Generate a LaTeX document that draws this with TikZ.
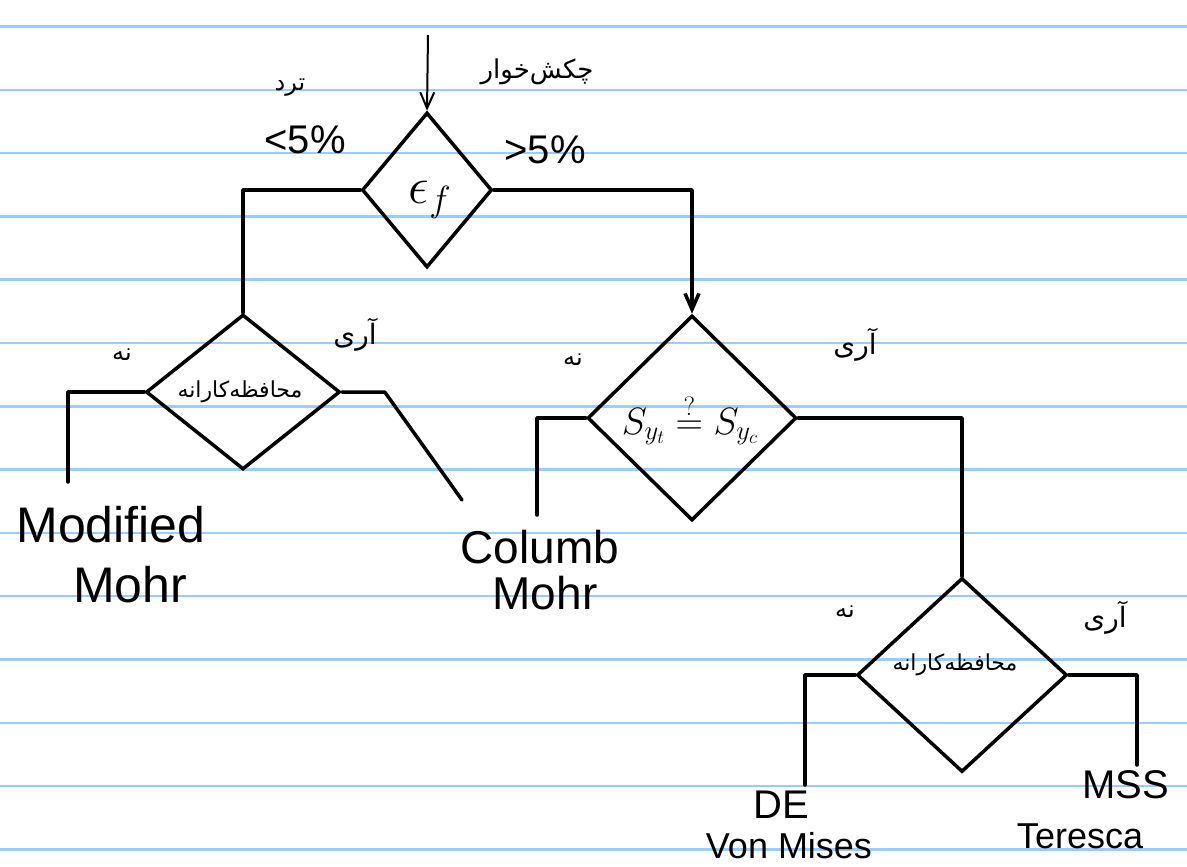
\documentclass[tikz,border=0pt]{standalone}
\usepackage{fix-cm}
\usepackage{amsmath}
\usepackage{fontspec}
\setmainfont{Liberation Sans}
\newfontfamily\arabicfont[Script=Arabic]{DejaVu Sans}
\TeXXeTstate=1
\usetikzlibrary{shapes.geometric,arrows.meta}
\definecolor{ruled}{HTML}{99CCFF}
\begin{document}
\begin{tikzpicture}[x=1pt,y=-1pt,
  flow/.style={line width=3.5pt, line join=round, line cap=round},
  inflow/.style={line width=2pt, -{Straight Barb[length=16pt,width=14pt,line width=2pt]}},
  dec/.style={diamond, draw, line width=3.5pt, inner sep=0pt},
  lat/.style={font=\fontsize{#1}{#1}\selectfont, inner sep=0pt},
  mth/.style={font=\fontsize{#1}{#1}\selectfont, inner sep=0pt},
  fa/.style={font=\arabicfont\fontsize{#1}{#1}\selectfont, inner sep=0pt}]
\fill[white] (0,0) rectangle (1187,867);
\useasboundingbox (0,0) rectangle (1187,867);
\foreach \k in {0,...,13}
  \draw[ruled, line width=2.5pt] ({0},{26.5+63.3*\k}) -- ({1187},{26.5+63.3*\k});

% decisions
\node[dec, minimum width=130pt, minimum height=155pt] (d1) at (427,190) {};
\node[dec, minimum width=194pt, minimum height=155pt] (d2) at (243,392) {};
\node[dec, minimum width=209pt, minimum height=205pt] (d3) at (692,418) {};
\node[dec, minimum width=210pt, minimum height=194pt] (d4) at (962,675) {};

\node[mth=52] (t1) at (430,200) {$\epsilon_f$};
\node[fa=22] (t2) at (240,392) {\beginR محافظه‌کارانه\endR};
\node[mth=38] (t3) at (690,420) {$S_{y_t}\overset{?}{=}S_{y_c}$};
\node[fa=22] (t4) at (955,665) {\beginR محافظه‌کارانه\endR};

% results
\node[lat=50] (mm1) at (111,525) {Modified};
\node[lat=50] (mm2) at (130,585) {Mohr};
\node[lat=46] (cm1) at (540,547) {Columb};
\node[lat=46] (cm2) at (545,593) {Mohr};
\node[lat=40] (de1) at (781,805) {DE};
\node[lat=36] (de2) at (789,846) {Von Mises};
\node[lat=40] (ms1) at (1126,785) {MSS};
\node[lat=36] (ms2) at (1080,836) {Teresca};

% branch labels
\node[fa=24] (brittle) at (290,88) {\beginR ترد\endR};
\node[fa=26] (ductile) at (537,72) {\beginR چکش‌خوار\endR};
\node[lat=40] (lt) at (305,140) {<5\%};
\node[lat=40] (gt) at (545,150) {>5\%};
\node[fa=24] (n2) at (122,355) {\beginR نه\endR};
\node[fa=28] (y2) at (355,335) {\beginR آری\endR};
\node[fa=24] (n3) at (573,360) {\beginR نه\endR};
\node[fa=28] (y3) at (855,345) {\beginR آری\endR};
\node[fa=24] (n4) at (845,612) {\beginR نه\endR};
\node[fa=28] (y4) at (1105,618) {\beginR آری\endR};

% connectors
\coordinate (start) at (428,35);
\coordinate (e2l) at (68,482);
\coordinate (e2r) at (462,500);
\coordinate (e3l) at (537,515);
\coordinate (e4l) at (805,785);
\coordinate (e4r) at (1137,765);

\draw[inflow] (start) -- (d1.north);
\draw[flow] (d1.west) -| (d2.north);
\draw[flow, -{Straight Barb[length=16pt,width=14pt]}] (d1.east) -| (d3.north);
\draw[flow] (d2.west) -| (e2l);
\draw[flow] (d2.east) -- ++(43,0) -- (e2r);
\draw[flow] (d3.west) -| (e3l);
\draw[flow] (d3.east) -| (d4.north);
\draw[flow] (d4.west) -| (e4l);
\draw[flow] (d4.east) -| (e4r);
\end{tikzpicture}
\end{document}
